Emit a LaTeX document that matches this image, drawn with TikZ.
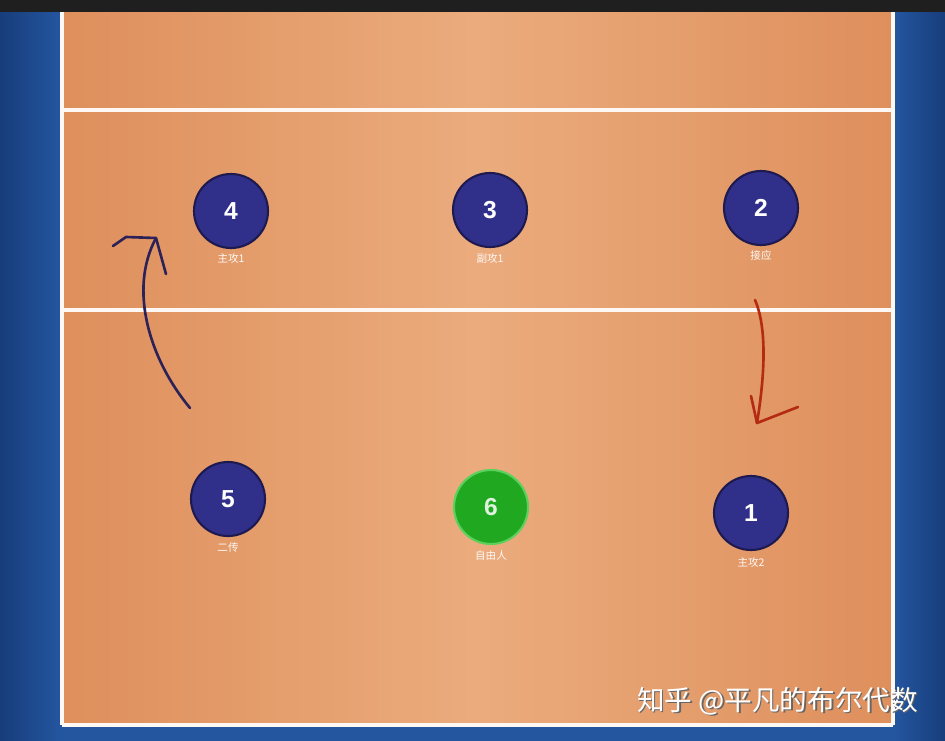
\documentclass[tikz,border=0pt]{standalone}
\usepackage{fontspec}
\newfontfamily\cjk{Noto Sans CJK SC}
\setsansfont{Liberation Sans}
\usetikzlibrary{calc}
\definecolor{courtorange}{HTML}{E9A26E}
\definecolor{courtedge}{HTML}{DE8F5C}
\definecolor{sideblue}{HTML}{2456A0}
\definecolor{sidedark}{HTML}{163B78}
\definecolor{playerblue}{HTML}{30308A}
\definecolor{playerrim}{HTML}{1E1A50}
\definecolor{liberogreen}{HTML}{20A820}
\definecolor{liberorim}{HTML}{5CD05C}
\definecolor{inkblue}{HTML}{2C2258}
\definecolor{inkred}{HTML}{B42A12}
\tikzset{
  player/.style={circle, minimum size=1.48cm, inner sep=0pt, fill=playerblue,
    draw=playerrim, line width=1.2pt, text=white, font=\sffamily\bfseries\fontsize{14}{14}\selectfont},
  libero/.style={player, fill=liberogreen, draw=liberorim, text=white!85!liberogreen},
  role/.style={text=white!92!courtorange, font=\cjk\fontsize{6}{6}\selectfont, inner sep=0pt},
  courtline/.style={white!92!courtorange, line width=2.6pt},
  ink/.style={line width=1.5pt, line cap=round, line join=round}
}
\begin{document}
\begin{tikzpicture}[x=0.02cm, y=-0.02cm]
				\useasboundingbox (0,0) rectangle (945,740);
				% background and court
				\shade[left color=sidedark, right color=sideblue] (-5,-5) rectangle (62,745);
				\shade[left color=sideblue, right color=sidedark] (893,-5) rectangle (950,745);
				\fill[sideblue] (60,725) rectangle (895,745);
				\shade[left color=courtedge, right color=courtedge, middle color=courtorange!90!white] (62,12) rectangle (893,725);
				\fill[black!88] (-5,-5) rectangle (950,12);
				
				% lines
				\draw[courtline] (62,12) -- (62,725);
				\draw[courtline] (893,12) -- (893,725);
				\draw[courtline] (62,725) -- (893,725);
				\draw[courtline] (62,110) -- (893,110);
				\draw[courtline] (62,310) -- (893,310);
				
				% players
				\node[player] (p4) at (231,211) {4};
				\node[player] (p3) at (490,210) {3};
				\node[player] (p2) at (761,208) {2};
				\node[player] (p5) at (228,499) {5};
				\node[libero] (p6) at (491,507) {6};
				\node[player] (p1) at (751,513) {1};
				
				\node[role] (r4) at (231,258) {主攻1};
				\node[role] (r3) at (490,258) {副攻1};
				\node[role] (r2) at (761,255) {接应};
				\node[role] (r5) at (228,548) {二传};
				\node[role] (r6) at (491,555) {自由人};
				\node[role] (r1) at (751,562) {主攻2};
				
				% rotation arrows
				\coordinate (bfrom) at (190,408);
				\coordinate (bto) at (156,238);
				\draw[ink, inkblue] (bfrom) .. controls (150,360) and (128,290) .. (bto);
				\draw[ink, inkblue] (113,246) -- (126,237) -- (bto) -- (166,274);
				
				\coordinate (rfrom) at (755,300);
				\coordinate (rto) at (757,423);
				\draw[ink, inkred] (rfrom) .. controls (768,330) and (764,380) .. (rto);
				\draw[ink, inkred] (751,396) -- (rto) -- (798,407);
				
				% watermark
				\node[text=black!60, font=\cjk\fontsize{15.7}{16}\selectfont, anchor=west, inner sep=0pt] (wms) at (638.5,702.5) {知乎 @平凡的布尔代数};
				\node[text=white, font=\cjk\fontsize{15.7}{16}\selectfont, anchor=west, inner sep=0pt] (wm) at (637,701) {知乎 @平凡的布尔代数};
			\end{tikzpicture}
\end{document}
